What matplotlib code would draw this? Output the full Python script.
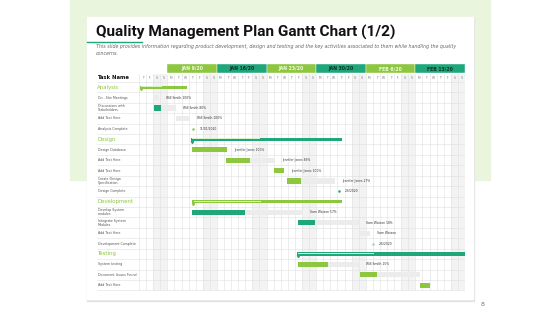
import matplotlib.pyplot as plt
from matplotlib.patches import Rectangle

LIGHT = "#8dc63f"
TEAL = "#1fa67a"
REST = "#ececec"
GRID = "#e0e0e0"

# ---- data ----
week_labels = ["JAN 9/20", "JAN 16/20", "JAN 23/20", "JAN 30/20", "FEB 6/20", "FEB 13/20"]
lead_days = ["T", "F", "S", "S"]
week_days = ["M", "T", "W", "T", "F", "S", "S"]

row_names = [
    "Analysis", "On - Site Meetings", "Discussions with\nStakeholders", "Add Text Here",
    "Analysis Complete",
    "Design", "Design Database", "Add Text Here", "Add Text Here",
    "Create Design\nSpecification", "Design Complete",
    "Development", "Develop System\nmodules", "Integrate System\nModules", "Add Text Here",
    "Development Complete",
    "Testing", "System testing", "Document Issues Found", "Add Text Here",
]
row_kind = [
    "section", "task", "task", "task", "milestone",
    "section", "task", "task", "task", "task", "milestone",
    "section", "task", "task", "task", "milestone",
    "section", "task", "task", "task",
]
bar_start = [0.1, 2.0, 2.1, 5.2, 7.6,
             7.3, 7.5, 12.3, 19.0, 20.9, 28.2,
             7.5, 7.5, 22.4, 31.2, 33.0,
             22.3, 22.4, 31.2, 39.6]
bar_done = [6.7, 0.0, 1.0, 0.0, 0.0,
            21.3, 4.9, 3.4, 1.45, 2.0, 0.0,
            21.1, 7.5, 2.4, 0.0, 0.0,
            23.7, 4.2, 2.4, 1.4]
bar_left = [0.0, 0.8, 2.1, 2.0, 0.0,
            0.0, 0.0, 3.5, 0.0, 4.8, 0.0,
            0.0, 8.1, 6.3, 1.4, 0.0,
            0.0, 4.5, 6.1, 0.0]
bar_color = [LIGHT, LIGHT, TEAL, LIGHT, LIGHT,
             TEAL, LIGHT, LIGHT, LIGHT, LIGHT, TEAL,
             LIGHT, TEAL, TEAL, LIGHT, "#9fd3bd",
             TEAL, LIGHT, LIGHT, LIGHT]
row_note = ["", "Will Smith 100%", "Will Smith 80%", "Will Smith 100%", "11/01/2020",
            "", "Jennifer Jones 100%", "Jennifer Jones 89%", "Jennifer Jones 100%",
            "Jennifer Jones 27%", "2/6/2020",
            "", "Sam Watson 57%", "Sam Watson 18%", "Sam Watson", "2/6/2020",
            "", "Will Smith 15%", "", ""]

day_labels = lead_days + week_days * len(week_labels)
n_days = len(day_labels)

fig = plt.figure(figsize=(5.6, 3.15), dpi=100)

# ---- slide background ----
bg = fig.add_axes([0, 0, 1, 1])
bg.set_xlim(0, 560)
bg.set_ylim(315, 0)
bg.axis("off")
bg.add_patch(Rectangle((70, 0), 420, 180, color="#eaf5de", zorder=0))
bg.add_patch(Rectangle((87, 18), 387, 283, color="#e2e2e2", zorder=1))
bg.add_patch(Rectangle((87, 17), 386, 282, color="white", zorder=2))
bg.plot([87, 142], [42, 42], color=TEAL, lw=1, zorder=3)
bg.text(96, 37, "Quality Management Plan Gantt Chart (1/2)", fontsize=11.1,
        fontweight="bold", family=["Roboto", "DejaVu Sans"],
        color="#111111", zorder=3)
bg.text(96, 50, "This slide provides information regarding product development, design and testing "
        "and the key activities associated to them while handling the quality\nconcerns.",
        fontsize=3.4, style="italic", color="#666666", zorder=3, va="center",
        linespacing=1.3)
bg.text(481, 305, "8", fontsize=4.5, color="#777777", va="center")

# ---- gantt ----
x0 = -43 / 7.087
ax = fig.add_axes([96 / 560, 1 - 291 / 315, (465 - 96) / 560, (291 - 60) / 315])
ax.set_xlim(x0, n_days)
ax.set_ylim(19.55, -2.6)
ax.axis("off")

grid_top = -1.25
for d, lab in enumerate(day_labels):
    if lab == "S":
        ax.add_patch(Rectangle((d, grid_top), 1, 19.5 - grid_top, color="#f3f3f3", lw=0, zorder=0))
    ax.text(d + 0.5, -0.9, lab, fontsize=2.2, color="#777777", ha="center", va="center")
for d in range(n_days + 1):
    ax.plot([d, d], [grid_top, 19.5], color=GRID, lw=0.4, zorder=1)
for r in range(-1, len(row_names)):
    ax.plot([x0 + 0.1, n_days], [r + 0.5, r + 0.5], color=GRID, lw=0.4, zorder=1)

for k, wl in enumerate(week_labels):
    s = len(lead_days) + 7 * k
    c = LIGHT if k % 2 == 0 else TEAL
    tc = "#f2fadf" if k % 2 == 0 else "#0d3324"
    ax.add_patch(Rectangle((s, -2.22), 7, 0.88, facecolor=c, edgecolor="white", lw=0.3, zorder=2))
    ax.text(s + 3.5, -1.78, wl, fontsize=3.3, fontweight="bold", color=tc,
            ha="center", va="center", zorder=3)

ax.text(x0 + 0.15, -0.9, "Task Name", fontsize=3.8, fontweight="bold", color="#111111", va="center")

for r, name in enumerate(row_names):
    kind = row_kind[r]
    if kind == "section":
        ax.text(x0 + 0.15, r, name, fontsize=3.9, color=LIGHT, va="center")
        ax.barh(r, bar_done[r], left=bar_start[r], height=0.3, color=bar_color[r], zorder=3)
        ax.barh(r - 0.05, bar_done[r] * 0.45, left=bar_start[r] + 0.2, height=0.06,
                color="#d9efc4", zorder=4)
        ax.plot(bar_start[r] + 0.15, r + 0.22, marker="v", ms=1.6, color=bar_color[r], zorder=4)
        continue
    ax.text(x0 + 0.25, r, name, fontsize=2.3, color="#555555", va="center", linespacing=1.1)
    if kind == "milestone":
        ax.plot(bar_start[r], r, marker="o", ms=1.8, color=bar_color[r], mec="none", zorder=4)
        ax.text(bar_start[r] + 0.9, r, row_note[r], fontsize=2.2, color="#333333", va="center")
        continue
    if bar_done[r] > 0:
        ax.barh(r, bar_done[r], left=bar_start[r], height=0.5, color=bar_color[r], zorder=3)
    if bar_left[r] > 0:
        ax.barh(r, bar_left[r], left=bar_start[r] + bar_done[r], height=0.5, color=REST, zorder=3)
    if row_note[r]:
        end = bar_start[r] + bar_done[r] + bar_left[r]
        ax.text(end + 1.0, r, row_note[r], fontsize=2.2, color="#333333", va="center")

fig.savefig("out.png", dpi=100)
